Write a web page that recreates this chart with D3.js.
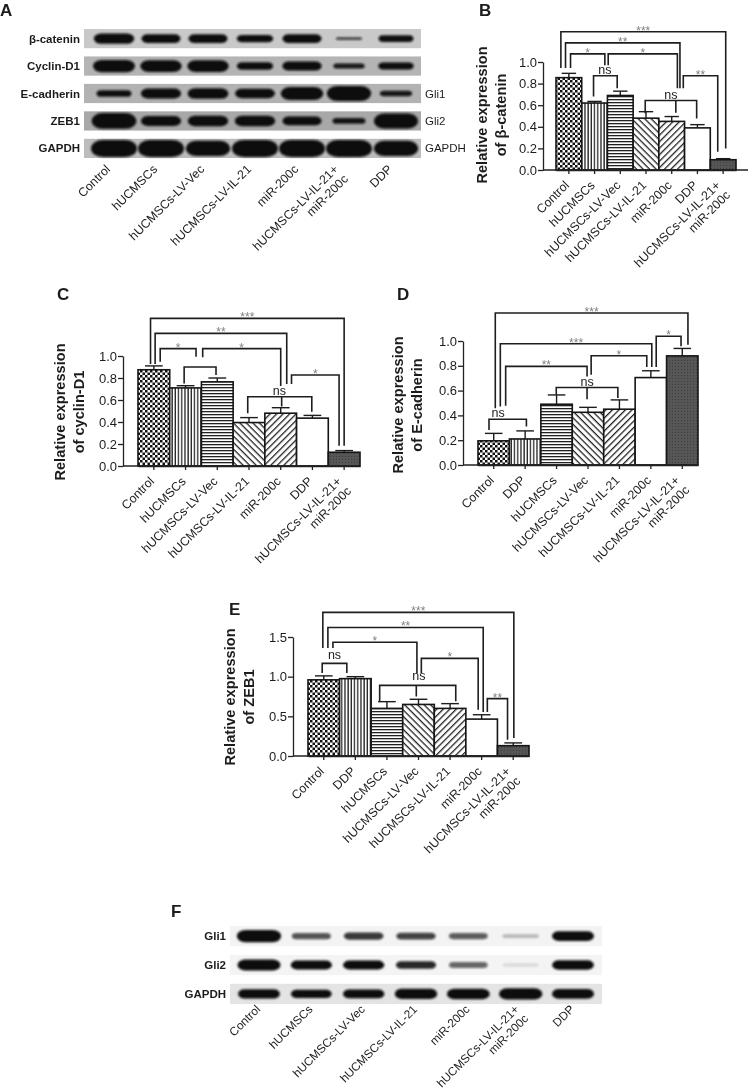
<!DOCTYPE html>
<html>
<head>
<meta charset="utf-8">
<script src="https://cdn.jsdelivr.net/npm/d3@7"></script>
<style>
  html, body { margin: 0; padding: 0; background: #fff; }
  svg { display: block; filter: blur(0.3px); }
  text { font-family: "Liberation Sans", Arial, sans-serif; fill: #1c1c1c; }
</style>
</head>
<body>
<div id="chart"></div>
<script>
// Lane names
const laneNames = ["Control", "hUCMSCs", "hUCMSCs-LV-Vec", "hUCMSCs-LV-IL-21", "miR-200c", "hUCMSCs-LV-IL-21+|miR-200c", "DDP"];
const catsBC = ["Control", "hUCMSCs", "hUCMSCs-LV-Vec", "hUCMSCs-LV-IL-21", "miR-200c", "DDP", "hUCMSCs-LV-IL-21+|miR-200c"];
const catsDE = ["Control", "DDP", "hUCMSCs", "hUCMSCs-LV-Vec", "hUCMSCs-LV-IL-21", "miR-200c", "hUCMSCs-LV-IL-21+|miR-200c"];

// Fill per bar, left to right
const fillNames = ["checker", "vert", "horiz", "back", "fwd", "plain", "dark"];

// Bar values and upper error
const bValues = [0.855, 0.62, 0.69, 0.48, 0.45, 0.39, 0.095];
const bErrors = [0.04, 0.015, 0.04, 0.06, 0.045, 0.03, 0.01];
const cValues = [0.875, 0.71, 0.765, 0.395, 0.48, 0.435, 0.125];
const cErrors = [0.035, 0.02, 0.035, 0.045, 0.05, 0.025, 0.015];
const dValues = [0.195, 0.21, 0.49, 0.425, 0.45, 0.705, 0.88];
const dErrors = [0.06, 0.065, 0.075, 0.04, 0.075, 0.055, 0.06];
const eValues = [0.96, 0.975, 0.6, 0.65, 0.6, 0.465, 0.13];
const eErrors = [0.05, 0.025, 0.085, 0.065, 0.06, 0.055, 0.035];

// Brackets: [label, left bar, right bar, top value, left foot, right foot, middle bar, middle foot, label bar, label value]
const bBrackets = [
  ["***", -0.31, 6.1, 1.28, 0.944, 0.2],
  ["**", -0.13, 4.32, 1.177, 0.944, 0.758],
  ["*", 0.065, 1.4, 1.075, 0.944, 0.97],
  ["*", 1.53, 4.22, 1.075, 0.97, 0.758],
  ["ns", 0.96, 1.88, 0.873, 0.68, 0.758, null, null, 1.4, 0.89],
  ["ns", 2.97, 4.97, 0.643, 0.525, 0.478, 4.16, 0.53, 3.97, 0.66],
  ["**", 4.45, 5.79, 0.873, 0.758, 0.168]
];
const cBrackets = [
  ["***", -0.105, 6.0, 1.342, 0.927, 0.185],
  ["**", 0.04, 4.19, 1.206, 0.927, 0.745],
  ["*", 0.2, 1.33, 1.067, 0.948, 0.994],
  ["*", 1.54, 4.0, 1.067, 0.988, 0.727],
  ["", 0.955, 1.96, 0.9, 0.75, 0.827],
  ["ns", 2.96, 4.98, 0.63, 0.479, 0.494, 4.03, 0.54, 3.96, 0.65],
  ["*", 4.34, 5.84, 0.827, 0.745, 0.185]
];
const dBrackets = [
  ["***", 0.05, 6.18, 1.226, 0.458, 0.97],
  ["***", 0.21, 5.03, 0.978, 0.472, 0.79],
  ["**", 0.38, 2.97, 0.795, 0.477, 0.714],
  ["*", 3.1, 4.87, 0.881, 0.728, 0.79],
  ["*", 5.17, 5.96, 1.038, 0.79, 0.957],
  ["ns", -0.15, 1.04, 0.369, 0.283, 0.31, null, null, 0.14, 0.385],
  ["ns", 1.99, 3.95, 0.625, 0.566, 0.54, 2.97, 0.53, 2.97, 0.64]
];
const eBrackets = [
  ["***", -0.03, 6.02, 1.81, 1.36, 0.227],
  ["**", 0.13, 5.05, 1.62, 1.36, 0.555],
  ["*", 0.29, 2.95, 1.433, 1.36, 1.046],
  ["*", 3.09, 4.89, 1.23, 1.046, 0.584],
  ["**", 5.18, 5.82, 0.723, 0.555, 0.206],
  ["ns", -0.05, 0.73, 1.168, 1.046, 1.046, null, null, 0.34, 1.22],
  ["ns", 1.77, 4.18, 0.89, 0.69, 0.69, 2.93, 0.75, 3.01, 0.96]
];

const ticksUnit = [0, 0.2, 0.4, 0.6, 0.8, 1.0];
const ticksZeb = [0, 0.5, 1.0, 1.5];

// Blot band strength per lane, estimated by eye
const blotAProteins = ["β-catenin", "Cyclin-D1", "E-cadherin", "ZEB1", "GAPDH"];
const blotASides = ["", "", "Gli1", "Gli2", "GAPDH"];
const blotABands = [
  [0.6, 0.5, 0.5, 0.42, 0.5, 0.12, 0.38],
  [0.72, 0.68, 0.68, 0.42, 0.52, 0.28, 0.4],
  [0.38, 0.58, 0.62, 0.55, 0.75, 0.88, 0.3],
  [0.92, 0.58, 0.6, 0.6, 0.5, 0.32, 0.88],
  [1, 1, 0.9, 1, 1, 1, 0.9]
];
const blotABack = ["#c9c9c9", "#b4b4b4", "#b2b2b2", "#a8a8a8", "#bcbcbc"];
const blotFProteins = ["Gli1", "Gli2", "GAPDH"];
const blotFBands = [
  [0.85, 0.34, 0.4, 0.38, 0.32, 0.12, 0.62],
  [0.72, 0.55, 0.55, 0.44, 0.3, 0.05, 0.6],
  [0.6, 0.5, 0.56, 0.66, 0.7, 0.75, 0.62]
];
const blotFBack = ["#f3f3f3", "#f4f4f4", "#e4e4e4"];

const svg = d3.select("#chart").append("svg").attr("width", 748).attr("height", 1090);
const defs = svg.append("defs");

// Hatch fills
const addPattern = (id, w, h, draw, angle) => {
  const p = defs.append("pattern").attr("id", id)
    .attr("patternUnits", "userSpaceOnUse").attr("width", w).attr("height", h);
  if (angle) p.attr("patternTransform", `rotate(${angle})`);
  p.append("rect").attr("width", w).attr("height", h).attr("fill", "#fff");
  draw(p);
};
addPattern("checker", 5, 5, (p) => {
  p.append("rect").attr("width", 2.5).attr("height", 2.5).attr("fill", "#111");
  p.append("rect").attr("x", 2.5).attr("y", 2.5).attr("width", 2.5).attr("height", 2.5).attr("fill", "#111");
});
const stripe = (p, w) => p.append("rect").attr("width", w).attr("height", 1.3).attr("fill", "#222");
addPattern("horiz", 3, 3, (p) => stripe(p, 3));
addPattern("vert", 3.2, 3.2, (p) => stripe(p, 3.2), 90);
addPattern("back", 4.6, 4.6, (p) => stripe(p, 4.6), 45);
addPattern("fwd", 4.6, 4.6, (p) => stripe(p, 4.6), -45);
addPattern("dark", 3, 3, (p) => {
  p.append("rect").attr("width", 3).attr("height", 3).attr("fill", "#565656");
  p.append("rect").attr("width", 1).attr("height", 1).attr("fill", "#3e3e3e");
});
defs.append("filter").attr("id", "bandBlur").attr("x", "-30%").attr("y", "-60%")
  .attr("width", "160%").attr("height", "220%")
  .append("feGaussianBlur").attr("stdDeviation", 1.1);

const panelLetter = (t, x, y) => svg.append("text").text(t).attr("x", x).attr("y", y)
  .attr("font-size", 17).attr("font-weight", "bold");

// Rotated category labels; a "|" breaks the label in two lines
const rotatedLabel = (sel, name, size) => {
  const lines = name.split("|");
  const label = sel.append("text").attr("text-anchor", "end").attr("font-size", size)
    .attr("transform", "rotate(-45)");
  lines.forEach((l, i) => {
    label.append("tspan").attr("x", 0).attr("dy", i ? "1.12em" : 0).text(l);
  });
};

// Western blot panel
const drawBlot = (g) => {
  const lane = d3.scalePoint().domain(d3.range(7)).range([g.lane0, g.lane1]);
  const row = d3.scaleBand().domain(d3.range(g.bands.length)).range([g.top, g.bottom]).paddingInner(g.gap);
  const group = svg.append("g");

  g.bands.forEach((bands, r) => {
    const mid = row(r) + row.bandwidth() / 2;
    group.append("rect").attr("x", g.left).attr("y", row(r))
      .attr("width", g.right - g.left).attr("height", row.bandwidth()).attr("fill", g.back[r]);
    group.selectAll(null).data(bands).enter().append("rect")
      .attr("x", (d, i) => lane(i) - g.width(d))
      .attr("y", (d) => mid - g.thick(d))
      .attr("width", (d) => 2 * g.width(d))
      .attr("height", (d) => 2 * g.thick(d))
      .attr("rx", (d) => g.thick(d) * 1.4)
      .attr("ry", (d) => g.thick(d))
      .attr("fill", "#0c0c0c")
      .attr("opacity", (d) => g.dark(d))
      .attr("filter", "url(#bandBlur)");
    group.append("text").text(g.proteins[r]).attr("x", g.left - 4)
      .attr("y", mid + 4).attr("text-anchor", "end")
      .attr("font-size", 11.5).attr("font-weight", "bold");
    if (g.sides && g.sides[r]) {
      group.append("text").text(g.sides[r]).attr("x", g.right + 4)
        .attr("y", mid + 4).attr("font-size", 11.5);
    }
  });

  laneNames.forEach((name, i) => {
    const shift = name.includes("|") ? g.shiftDouble : g.shiftSingle;
    const at = group.append("g")
      .attr("transform", `translate(${lane(i) + shift},${g.bottom + g.labelDrop})`);
    rotatedLabel(at, name, g.labelSize);
  });
};

// Bar chart panel
const drawBars = (p) => {
  const x = d3.scaleBand().domain(p.cats).range([p.barLeft, p.barRight]);
  const xPos = d3.scaleLinear().domain([-0.5, 6.5]).range([p.barLeft, p.barRight]);
  const y = d3.scaleLinear().domain([0, p.yMax]).range([p.bottom, p.top]);
  const bars = p.cats.map((c, i) => ({ c, v: p.values[i], e: p.errors[i], f: fillNames[i] }));
  const g = svg.append("g");

  const title = g.append("text").attr("text-anchor", "middle").attr("font-size", 14.6)
    .attr("font-weight", "bold")
    .attr("transform", `translate(${p.titleX},${p.titleY}) rotate(-90)`);
  title.append("tspan").attr("x", 0).text("Relative expression");
  title.append("tspan").attr("x", 0).attr("dy", 19).text(p.titleLine);

  // error bars under the bars
  const err = g.append("g").attr("stroke", "#1c1c1c").attr("stroke-width", 1.4);
  err.selectAll(null).data(bars).enter().append("line")
    .attr("x1", (d) => x(d.c) + x.bandwidth() / 2).attr("x2", (d) => x(d.c) + x.bandwidth() / 2)
    .attr("y1", (d) => y(d.v)).attr("y2", (d) => y(d.v + d.e));
  err.selectAll(null).data(bars).enter().append("line")
    .attr("x1", (d) => x(d.c) + x.bandwidth() * 0.22).attr("x2", (d) => x(d.c) + x.bandwidth() * 0.78)
    .attr("y1", (d) => y(d.v + d.e)).attr("y2", (d) => y(d.v + d.e));

  g.selectAll(null).data(bars).enter().append("rect")
    .attr("x", (d) => x(d.c)).attr("y", (d) => y(d.v))
    .attr("width", x.bandwidth()).attr("height", (d) => y(0) - y(d.v))
    .attr("fill", (d) => (d.f === "plain" ? "#fff" : `url(#${d.f})`))
    .attr("stroke", "#151515").attr("stroke-width", 1.6);

  // axes
  const yAxis = g.append("g").attr("transform", `translate(${p.axisX},0)`)
    .call(d3.axisLeft(y).tickValues(p.ticks).tickFormat(d3.format(".1f")).tickSize(5).tickSizeOuter(0).tickPadding(1));
  const xAxis = g.append("g").attr("transform", `translate(0,${p.bottom})`)
    .call(d3.axisBottom(x).tickSize(4).tickSizeOuter(0).tickFormat(""));
  g.append("line").attr("x1", p.axisX).attr("x2", p.axisEnd)
    .attr("y1", p.bottom).attr("y2", p.bottom).attr("stroke", "#222").attr("stroke-width", 1.3);
  yAxis.selectAll("path,line").attr("stroke", "#222").attr("stroke-width", 1.3);
  xAxis.selectAll("path,line").attr("stroke", "#222").attr("stroke-width", 1.3);
  yAxis.selectAll("text").attr("font-size", 13).attr("font-family", null);

  p.cats.forEach((c) => {
    const double = c.includes("|");
    const at = g.append("g")
      .attr("transform", `translate(${x(c) + x.bandwidth() / 2 + (double ? -2 : 1)},${p.bottom + 16})`);
    rotatedLabel(at, c, 12.4);
  });

  // significance brackets
  p.brackets.forEach(([label, x0, x1, top, foot0, foot1, mid, midFoot, labelX, labelV]) => {
    const path = d3.path();
    path.moveTo(xPos(x0), y(foot0));
    path.lineTo(xPos(x0), y(top));
    path.lineTo(xPos(x1), y(top));
    path.lineTo(xPos(x1), y(foot1));
    if (mid !== undefined && mid !== null) {
      path.moveTo(xPos(mid), y(top));
      path.lineTo(xPos(mid), y(midFoot));
    }
    g.append("path").attr("d", path.toString()).attr("fill", "none")
      .attr("stroke", "#1e1e1e").attr("stroke-width", 1.6);
    if (label === "ns") {
      g.append("text").text(label).attr("x", xPos(labelX)).attr("y", y(labelV))
        .attr("text-anchor", "middle").attr("font-size", 12.5).style("fill", "#222");
    } else if (label) {
      g.append("text").text(label).attr("x", xPos((x0 + x1) / 2)).attr("y", y(top) + 3)
        .attr("text-anchor", "middle").attr("font-size", 12).style("fill", "#808080");
    }
  });
};

panelLetter("A", 0, 16);
drawBlot({
  bands: blotABands, proteins: blotAProteins, sides: blotASides, back: blotABack,
  left: 84, right: 421, top: 29, bottom: 158, gap: 0.3, lane0: 114, lane1: 396,
  labelDrop: 12, shiftSingle: -3, shiftDouble: -10, labelSize: 12.3,
  width: d3.scaleLinear().domain([0.12, 0.5, 1]).range([13, 19.5, 23]),
  thick: d3.scaleLinear().domain([0.12, 1]).range([1.2, 8.5]),
  dark: d3.scaleLinear().domain([0.12, 0.4]).range([0.85, 1]).clamp(true)
});

panelLetter("B", 479, 16);
drawBars({
  cats: catsBC, values: bValues, errors: bErrors, brackets: bBrackets,
  ticks: ticksUnit, yMax: 1, top: 62, bottom: 170, axisX: 543, axisEnd: 748, barLeft: 556, barRight: 736,
  titleX: 487, titleY: 115, titleLine: "of β-catenin"
});

panelLetter("C", 57, 300);
drawBars({
  cats: catsBC, values: cValues, errors: cErrors, brackets: cBrackets,
  ticks: ticksUnit, yMax: 1, top: 356, bottom: 466, axisX: 123, axisEnd: 360, barLeft: 138, barRight: 360,
  titleX: 65, titleY: 412, titleLine: "of cyclin-D1"
});

panelLetter("D", 397, 300);
drawBars({
  cats: catsDE, values: dValues, errors: dErrors, brackets: dBrackets,
  ticks: ticksUnit, yMax: 1, top: 341, bottom: 465, axisX: 463, axisEnd: 698, barLeft: 478, barRight: 698,
  titleX: 403, titleY: 405, titleLine: "of E-cadherin"
});

panelLetter("E", 229, 615);
drawBars({
  cats: catsDE, values: eValues, errors: eErrors, brackets: eBrackets,
  ticks: ticksZeb, yMax: 1.5, top: 637, bottom: 756, axisX: 293, axisEnd: 529, barLeft: 308, barRight: 529,
  titleX: 235, titleY: 697, titleLine: "of ZEB1"
});

panelLetter("F", 171, 917);
drawBlot({
  bands: blotFBands, proteins: blotFProteins, back: blotFBack,
  left: 230, right: 602, top: 926, bottom: 1004, gap: 0.3, lane0: 259, lane1: 573,
  labelDrop: 6, shiftSingle: 2, shiftDouble: -1, labelSize: 11.8,
  width: d3.scaleLinear().domain([0.05, 1]).range([18, 23]),
  thick: d3.scaleLinear().domain([0.05, 1]).range([1.5, 7]),
  dark: d3.scaleLinear().domain([0.05, 0.5]).range([0.12, 1]).clamp(true)
});
</script>
</body>
</html>
